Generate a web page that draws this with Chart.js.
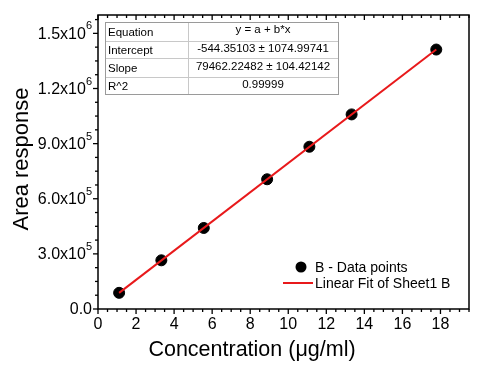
<!DOCTYPE html>
<html>
<head>
<meta charset="utf-8">
<script src="https://cdn.jsdelivr.net/npm/chart.js@4"></script>
<style>
  html, body { margin: 0; padding: 0; background: #fff; }
</style>
</head>
<body>
<canvas id="chart" width="480" height="366"></canvas>
<script>
// measured points (concentration in ug/ml vs peak area)
const concentration = [1.11, 3.33, 5.56, 8.89, 11.11, 13.33, 17.78];
const areaResponse = [88000, 265000, 441000, 706000, 883000, 1059000, 1412000];

// linear fit end points
const fitX = [1.11, 17.78];
const fitY = [87659, 1412273];

const xTicks = [0, 2, 4, 6, 8, 10, 12, 14, 16, 18];
const yTicks = [0, 300000, 600000, 900000, 1200000, 1500000];
const yTickBase = ["0.0", "3.0x10", "6.0x10", "9.0x10", "1.2x10", "1.5x10"];
const yTickExp = ["", "5", "5", "5", "6", "6"];

const tableRows = [
  ["Equation", "y = a + b*x"],
  ["Intercept", "-544.35103 \u00b1 1074.99741"],
  ["Slope", "79462.22482 \u00b1 104.42142"],
  ["R^2", "0.99999"]
];
const legendLabels = ["B - Data points", "Linear Fit of Sheet1 B"];
const xTitle = "Concentration (\u03bcg/ml)";
const yTitle = "Area response";

const FONT = "'Liberation Sans', Arial, sans-serif";

const decorations = {
  id: "decorations",
  afterDraw(chart) {
    const ctx = chart.ctx;
    const area = chart.chartArea;
    const xs = chart.scales.x;
    const ys = chart.scales.y;
    ctx.save();

    // frame
    ctx.strokeStyle = "#000";
    ctx.lineWidth = 1.5;
    ctx.strokeRect(area.left, area.top, area.right - area.left, area.bottom - area.top);

    // x ticks (bottom outward, top inward)
    ctx.lineWidth = 1.3;
    for (let v = 0; v <= xs.max; v += 0.5) {
      const px = xs.getPixelForValue(v);
      const len = v % 2 === 0 ? 5 : 3;
      ctx.beginPath();
      ctx.moveTo(px, area.bottom);
      ctx.lineTo(px, area.bottom + len);
      ctx.moveTo(px, area.top);
      ctx.lineTo(px, area.top + len);
      ctx.stroke();
    }
    // y ticks (left outward)
    for (let v = 0; v <= ys.max; v += 75000) {
      const py = ys.getPixelForValue(v);
      const len = v % 300000 === 0 ? 5 : 3;
      ctx.beginPath();
      ctx.moveTo(area.left, py);
      ctx.lineTo(area.left - len, py);
      ctx.stroke();
    }

    // x tick labels
    ctx.fillStyle = "#000";
    ctx.font = "16px " + FONT;
    ctx.textAlign = "center";
    ctx.textBaseline = "middle";
    xTicks.forEach(v => {
      ctx.fillText(String(v), xs.getPixelForValue(v), area.bottom + 16);
    });

    // y tick labels with superscript exponent
    const right = area.left - 6;
    yTicks.forEach((v, i) => {
      const py = ys.getPixelForValue(v);
      ctx.font = "11px " + FONT;
      const expW = yTickExp[i] ? ctx.measureText(yTickExp[i]).width : 0;
      ctx.textAlign = "left";
      if (yTickExp[i]) ctx.fillText(yTickExp[i], right - expW, py - 7);
      ctx.font = "16px " + FONT;
      ctx.textAlign = "right";
      ctx.fillText(yTickBase[i], right - expW, py + 1);
    });

    // axis titles
    ctx.font = "21.5px " + FONT;
    ctx.textAlign = "center";
    ctx.fillText(xTitle, 252, 350);
    ctx.save();
    ctx.translate(22, 159);
    ctx.rotate(-Math.PI / 2);
    ctx.font = "22px " + FONT;
    ctx.fillText(yTitle, 0, 0);
    ctx.restore();

    // fit results table
    const tx = 105, ty = 22, tw = 233, colX = 188;
    const rowH = [19, 17, 19, 17];
    ctx.strokeStyle = "#c8c8c8";
    ctx.lineWidth = 1;
    let yy = ty;
    ctx.font = "11.5px " + FONT;
    tableRows.forEach((row, i) => {
      const h = rowH[i];
      if (i > 0) {
        ctx.beginPath();
        ctx.moveTo(tx, yy + 0.5);
        ctx.lineTo(tx + tw, yy + 0.5);
        ctx.stroke();
      }
      ctx.textAlign = "left";
      ctx.fillText(row[0], tx + 3, yy + h / 2 + 1);
      ctx.textAlign = "center";
      ctx.fillText(row[1], (colX + tx + tw) / 2, yy + h / 2 - (i === 0 ? 2 : 1));
      yy += h;
    });
    ctx.beginPath();
    ctx.moveTo(colX + 0.5, ty);
    ctx.lineTo(colX + 0.5, yy);
    ctx.stroke();
    ctx.strokeStyle = "#9a9a9a";
    ctx.strokeRect(tx + 0.5, ty + 0.5, tw, yy - ty);

    // legend
    ctx.font = "14px " + FONT;
    ctx.textAlign = "left";
    ctx.fillStyle = "#000";
    ctx.beginPath();
    ctx.arc(301, 267, 5.5, 0, Math.PI * 2);
    ctx.fill();
    ctx.fillText(legendLabels[0], 315, 268);
    ctx.strokeStyle = "#e8191b";
    ctx.lineWidth = 2;
    ctx.beginPath();
    ctx.moveTo(283, 283);
    ctx.lineTo(313, 283);
    ctx.stroke();
    ctx.fillText(legendLabels[1], 315, 284);

    ctx.restore();
  }
};

new Chart(document.getElementById("chart"), {
  type: "scatter",
  data: {
    datasets: [
      {
        label: legendLabels[1],
        type: "line",
        data: fitX.map((x, i) => ({ x: x, y: fitY[i] })),
        borderColor: "#e8191b",
        borderWidth: 2,
        pointRadius: 0,
        fill: false,
        order: 0
      },
      {
        label: legendLabels[0],
        data: concentration.map((x, i) => ({ x: x, y: areaResponse[i] })),
        backgroundColor: "#000",
        borderColor: "#000",
        pointRadius: 5.5,
        order: 1
      }
    ]
  },
  options: {
    responsive: false,
    animation: false,
    devicePixelRatio: 1,
    layout: { padding: { top: 15, right: 11, left: 0, bottom: 0 } },
    plugins: {
      legend: { display: false },
      tooltip: { enabled: false }
    },
    scales: {
      x: {
        type: "linear",
        min: 0,
        max: 19.5,
        grid: { display: false },
        border: { display: false },
        ticks: { display: false },
        afterFit(scale) { scale.height = 57; }
      },
      y: {
        type: "linear",
        min: 0,
        max: 1600000,
        grid: { display: false },
        border: { display: false },
        ticks: { display: false },
        afterFit(scale) { scale.width = 98; }
      }
    }
  },
  plugins: [decorations]
});
</script>
</body>
</html>
